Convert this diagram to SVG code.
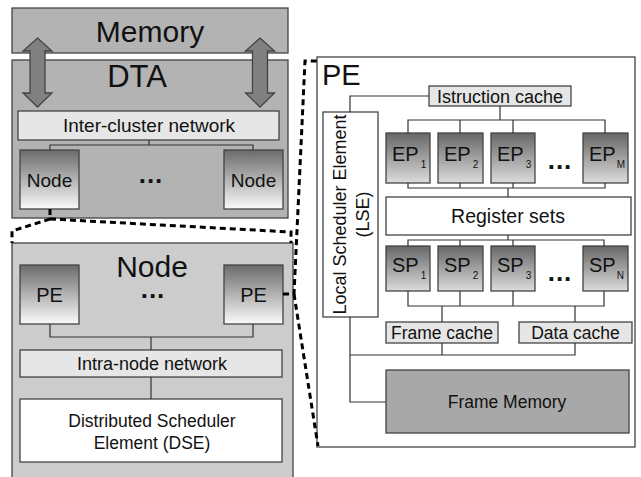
<svg xmlns="http://www.w3.org/2000/svg" width="641" height="477" viewBox="0 0 641 477">
<defs>
<linearGradient id="gNode" x1="0" y1="0" x2="0" y2="1">
<stop offset="0" stop-color="#6b6b6b"/><stop offset="1" stop-color="#fafafa"/>
</linearGradient>
<linearGradient id="gPU" x1="0" y1="0" x2="0" y2="1">
<stop offset="0" stop-color="#666"/><stop offset="1" stop-color="#dcdcdc"/>
</linearGradient>
<style>
text{font-family:"Liberation Sans",Arial,sans-serif;fill:#111}
.box{stroke:#444;stroke-width:1.3}
.big{fill:#b3b3b3}
.light{fill:#e6e6e6}
.white{fill:#fff}
.grad{fill:url(#gNode)}
.pu{fill:url(#gPU)}
.wire{fill:none;stroke:#333;stroke-width:1.2}
.dash{fill:none;stroke:#000;stroke-width:3;stroke-dasharray:6 4}
.arrow{fill:#808080;stroke:#444;stroke-width:1.3}
.c{text-anchor:middle}
.dots{font-weight:bold;font-size:26px;letter-spacing:1px;text-anchor:middle}
</style>
</defs>

<g id="memory"><rect class="box big" x="12" y="8" width="276" height="45"/><text class="c" x="150" y="42" font-size="30">Memory</text></g>
<g id="dta"><rect class="box big" x="12" y="60" width="276" height="158"/><text class="c" x="137" y="87" font-size="31">DTA</text></g>
<g id="arrows">
<polygon class="arrow" points="37.5,38 52,51 45,51 45,93 52,93 37.5,107 23,93 30,93 30,51 23,51"/>
<polygon class="arrow" points="260,38 274.5,51 267.5,51 267.5,93 274.5,93 260,107 245.5,93 252.5,93 252.5,51 245.5,51"/>
</g>
<g id="inter-cluster"><rect class="box light" x="18" y="111" width="261" height="29"/><text class="c" x="149" y="132" font-size="19">Inter-cluster network</text></g>
<g id="dta-node1"><rect class="box grad" x="20" y="150" width="59" height="59"/><text class="c" x="49.5" y="187" font-size="19">Node</text></g>
<g id="dta-node2"><rect class="box grad" x="224" y="150" width="59" height="59"/><text class="c" x="253.5" y="187" font-size="19">Node</text></g>
<text class="dots" x="151" y="183">...</text>

<g id="node"><rect class="box" fill="#cccccc" x="12" y="243" width="281" height="240"/><text class="c" x="152" y="277" font-size="30">Node</text></g>
<g id="node-pe1"><rect class="box grad" x="20" y="265" width="59" height="59"/><text class="c" x="49.5" y="302" font-size="20">PE</text></g>
<g id="node-pe2"><rect class="box grad" x="224" y="265" width="59" height="59"/><text class="c" x="253.5" y="302" font-size="20">PE</text></g>
<text class="dots" x="153" y="298">...</text>
<g id="intra-node"><rect class="box light" x="20" y="350" width="262" height="27"/><text class="c" x="152" y="370" font-size="18">Intra-node network</text></g>
<g id="dse"><rect class="box white" x="20" y="399" width="262" height="63"/><text class="c" x="152" y="427" font-size="17.5">Distributed Scheduler</text><text class="c" x="152" y="449" font-size="17.5">Element (DSE)</text></g>

<g id="pe"><rect class="box white" x="317" y="57" width="318" height="390"/><text x="322" y="85" font-size="29">PE</text></g>
<g id="icache"><rect class="box light" x="429" y="86" width="142" height="20"/><text class="c" x="500" y="103" font-size="18">Istruction cache</text></g>
<g id="lse"><rect class="box white" x="323" y="112" width="55" height="205"/>
<text class="c" transform="translate(346,214.5) rotate(-90)" font-size="18">Local Scheduler Element</text>
<text class="c" transform="translate(369,214.5) rotate(-90)" font-size="18">(LSE)</text></g>
<g id="ep1"><rect class="box pu" x="386" y="133" width="44" height="50"/><text x="392" y="161" font-size="20">EP<tspan font-size="10" dx="2" dy="7">1</tspan></text></g>
<g id="ep2"><rect class="box pu" x="438" y="133" width="45" height="50"/><text x="444" y="161" font-size="20">EP<tspan font-size="10" dx="2" dy="7">2</tspan></text></g>
<g id="ep3"><rect class="box pu" x="491" y="133" width="44" height="50"/><text x="497" y="161" font-size="20">EP<tspan font-size="10" dx="2" dy="7">3</tspan></text></g>
<g id="epm"><rect class="box pu" x="583" y="133" width="45" height="50"/><text x="589" y="161" font-size="20">EP<tspan font-size="10" dx="1" dy="7">M</tspan></text></g>
<text class="dots" x="560" y="169">...</text>
<g id="regsets"><rect class="box white" x="386" y="197" width="245" height="38"/><text class="c" x="508" y="223" font-size="19.5">Register sets</text></g>
<g id="sp1"><rect class="box pu" x="386" y="246" width="44" height="45"/><text x="392" y="272" font-size="20">SP<tspan font-size="10" dx="2" dy="7">1</tspan></text></g>
<g id="sp2"><rect class="box pu" x="438" y="246" width="45" height="45"/><text x="444" y="272" font-size="20">SP<tspan font-size="10" dx="2" dy="7">2</tspan></text></g>
<g id="sp3"><rect class="box pu" x="491" y="246" width="44" height="45"/><text x="497" y="272" font-size="20">SP<tspan font-size="10" dx="2" dy="7">3</tspan></text></g>
<g id="spn"><rect class="box pu" x="583" y="246" width="45" height="45"/><text x="589" y="272" font-size="20">SP<tspan font-size="10" dx="1" dy="7">N</tspan></text></g>
<text class="dots" x="560" y="281">...</text>
<g id="fcache"><rect class="box light" x="386" y="322" width="112" height="21"/><text class="c" x="442" y="339" font-size="17.5">Frame cache</text></g>
<g id="dcache"><rect class="box light" x="519" y="322" width="113" height="21"/><text class="c" x="575.5" y="339" font-size="17.5">Data cache</text></g>
<g id="fmem"><rect class="box" fill="#a8a8a8" x="386" y="370" width="243" height="63"/><text class="c" x="507" y="408" font-size="17.5">Frame Memory</text></g>

<g id="connectors">
<path class="wire" d="M149,140 V145 M50,150 V145 H253 V150"/>
<path class="wire" d="M50,324 V337 H253 V324 M151,337 V350 M151,377 V399"/>
<path class="wire" d="M429,96 H350 V112"/>
<path class="wire" stroke-width="1.6" d="M500,106 V120"/>
<path class="wire" d="M408,133 V120 H605 V133 M460,120 V133 M513,120 V133"/>
<path class="wire" d="M408,183 V188 H605 V183 M460,183 V188 M513,183 V188"/>
<path class="wire" stroke-width="1.6" d="M508,188 V197 M508,235 V240"/>
<path class="wire" d="M408,246 V240 H604 V246 M460,240 V246 M513,240 V246"/>
<path class="wire" d="M408,291 V306 H604 V291 M460,291 V306 M513,291 V306"/>
<path class="wire" d="M442,306 V322 M575,306 V322"/>
<path class="wire" d="M442,343 V355 M575,343 V355 H350 M350,317 V402 H386"/>
<path class="dash" d="M50,209 V219 L12,231 V243"/>
<path class="dash" d="M50,219 L291,232 V243"/>
<path class="dash" d="M283,294 H294 L305,61 H317"/>
<path class="dash" d="M294,294 L318,446"/>
</g>
</svg>
